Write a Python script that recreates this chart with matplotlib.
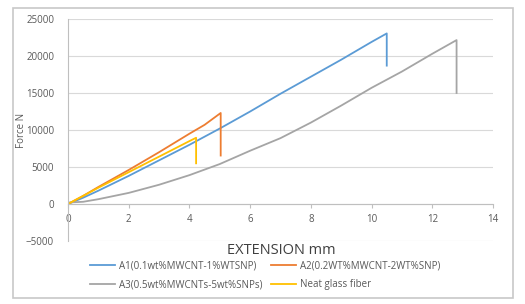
import numpy as np
import matplotlib.pyplot as plt
from matplotlib.patches import Rectangle

plt.rcParams['font.family'] = ['Open Sans', 'DejaVu Sans']

# data (extension mm, force N)
a1_x = [0, 0.5, 1, 2, 3, 4, 5, 6, 7, 8, 9, 10, 10.5, 10.5]
a1_y = [0, 850, 1800, 3800, 5900, 8000, 10200, 12500, 14900, 17200, 19500, 21900, 23050, 18700]
a2_x = [0, 0.5, 1, 2, 3, 4, 4.5, 5.03, 5.03]
a2_y = [0, 1100, 2300, 4600, 7000, 9500, 10700, 12300, 6550]
a3_x = [0, 0.5, 1, 2, 3, 4, 5, 6, 7, 8, 9, 10, 11, 12, 12.8, 12.8]
a3_y = [200, 300, 650, 1500, 2600, 3900, 5400, 7200, 8900, 11000, 13300, 15700, 17900, 20300, 22150, 15000]
neat_x = [0, 0.5, 1, 2, 3, 4, 4.22, 4.22]
neat_y = [0, 1100, 2200, 4300, 6400, 8500, 8950, 5500]

labels = ['A1(0.1wt%MWCNT-1%WTSNP)', 'A2(0.2WT%MWCNT-2WT%SNP)',
          'A3(0.5wt%MWCNTs-5wt%SNPs)', 'Neat glass fiber']
colors = ['#5b9bd5', '#ed7d31', '#a5a5a5', '#ffc000']

fig = plt.figure(figsize=(5.25, 3.04), dpi=100)
fig.patches.append(Rectangle((13/525, 1 - 298/304), 500/525, 290/304,
                             transform=fig.transFigure, fill=False,
                             edgecolor='#c8c8c8', linewidth=1.2))
ax = fig.add_axes([68/525, 1 - 241/304, 425/525, 222/304])

l1, = ax.plot(a1_x, a1_y, color=colors[0], lw=1.3, label=labels[0])
l2, = ax.plot(a2_x, a2_y, color=colors[1], lw=1.3, label=labels[1])
l3, = ax.plot(a3_x, a3_y, color=colors[2], lw=1.3, label=labels[2])
l4, = ax.plot(neat_x, neat_y, color=colors[3], lw=1.3, label=labels[3])

ax.set_xlim(0, 14)
ax.set_ylim(-5000, 25000)
ax.set_xticks(np.arange(0, 15, 2))
ax.set_yticks(np.arange(-5000, 25001, 5000))
ax.grid(axis='y', color='#d9d9d9', lw=0.8)
ax.set_axisbelow(True)
for s in ['top', 'right']:
    ax.spines[s].set_visible(False)
ax.spines['bottom'].set_position(('data', 0))
ax.spines['bottom'].set_color('#bfbfbf')
ax.spines['left'].set_color('#bfbfbf')
ax.tick_params(axis='x', colors='#bfbfbf', labelcolor='#595959', labelsize=7, length=3, pad=4)
ax.tick_params(axis='y', length=0, labelcolor='#595959', labelsize=7, pad=10)

ax.set_ylabel('Force N', fontsize=7, color='#595959')
ax.yaxis.set_label_coords((27 - 68) / 425, 0.5)
fig.text(0.535, 1 - 250/304, 'EXTENSION mm', fontsize=10.5, color='#404040',
         ha='center', va='center')

# column-major fill: A1, A3 in first column, A2, Neat in second
fig.legend([l1, l3, l2, l4], [labels[0], labels[2], labels[1], labels[3]],
           loc='upper center', bbox_to_anchor=(0.505, 1 - 256/304), ncol=2, frameon=False,
           fontsize=7, labelcolor='#595959', handlelength=2.6, handletextpad=0.4,
           columnspacing=0.8, labelspacing=0.75, borderpad=0)

fig.savefig('out.png', dpi=100)
